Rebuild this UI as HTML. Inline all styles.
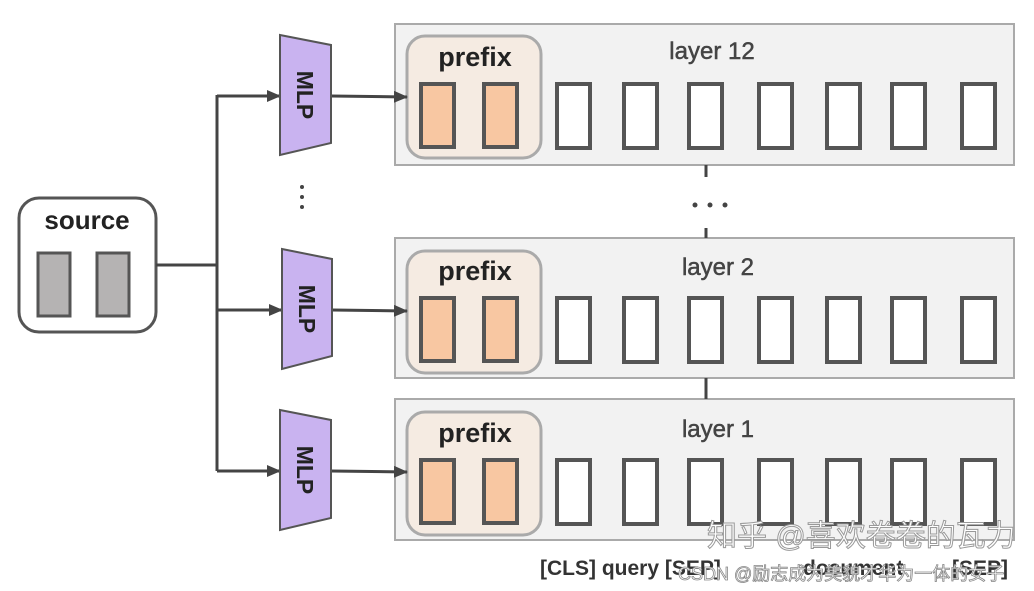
<!DOCTYPE html>
<html><head><meta charset="utf-8"><style>
html,body{margin:0;padding:0;background:#fff;}
svg{display:block;}
text{font-family:"Liberation Sans","Noto Sans CJK SC",sans-serif;}
</style></head><body>
<svg width="1034" height="591" viewBox="0 0 1034 591" xmlns="http://www.w3.org/2000/svg">
<defs>
<marker id="ar" markerWidth="14" markerHeight="12" refX="13" refY="6" orient="auto" markerUnits="userSpaceOnUse">
<path d="M0,0 L14,6 L0,12 z" fill="#444"/></marker>
<g id="tok"><rect width="33" height="64" fill="#fff" stroke="#555" stroke-width="4"/></g>
<g id="pre"><rect width="33" height="63" fill="#f8c7a2" stroke="#555" stroke-width="4"/></g>
</defs>

<rect x="395" y="24" width="619" height="141" fill="#f2f2f2" stroke="#aaa" stroke-width="2"/>
<rect x="395" y="238" width="619" height="140" fill="#f2f2f2" stroke="#aaa" stroke-width="2"/>
<rect x="395" y="399" width="619" height="141" fill="#f2f2f2" stroke="#aaa" stroke-width="2"/>

<line x1="706" y1="165" x2="706" y2="177" stroke="#444" stroke-width="3"/>
<line x1="706" y1="228" x2="706" y2="238" stroke="#444" stroke-width="3"/>
<circle cx="695" cy="205" r="2.5" fill="#444"/><circle cx="710" cy="205" r="2.5" fill="#444"/><circle cx="725" cy="205" r="2.5" fill="#444"/>
<line x1="706" y1="378" x2="706" y2="399" stroke="#444" stroke-width="3"/>

<rect x="407" y="36" width="134" height="122" rx="18" fill="#f5ebe2" stroke="#aaa" stroke-width="3"/>
<rect x="407" y="251" width="134" height="122" rx="18" fill="#f5ebe2" stroke="#aaa" stroke-width="3"/>
<rect x="407" y="412" width="134" height="123" rx="18" fill="#f5ebe2" stroke="#aaa" stroke-width="3"/>
<text x="475" y="66" font-size="27" font-weight="bold" text-anchor="middle" fill="#222">prefix</text>
<text x="475" y="280" font-size="27" font-weight="bold" text-anchor="middle" fill="#222">prefix</text>
<text x="475" y="442" font-size="27" font-weight="bold" text-anchor="middle" fill="#222">prefix</text>

<use href="#pre" x="421" y="84"/><use href="#pre" x="484" y="84"/>
<use href="#pre" x="421" y="298"/><use href="#pre" x="484" y="298"/>
<use href="#pre" x="421" y="460"/><use href="#pre" x="484" y="460"/>

<text x="712" y="59" font-size="24" text-anchor="middle" fill="#444" stroke="#444" stroke-width="0.5">layer 12</text>
<text x="718" y="275" font-size="24" text-anchor="middle" fill="#444" stroke="#444" stroke-width="0.5">layer 2</text>
<text x="718" y="437" font-size="24" text-anchor="middle" fill="#444" stroke="#444" stroke-width="0.5">layer 1</text>

<g>
<use href="#tok" x="557" y="84"/><use href="#tok" x="624" y="84"/><use href="#tok" x="689" y="84"/><use href="#tok" x="759" y="84"/><use href="#tok" x="827" y="84"/><use href="#tok" x="892" y="84"/><use href="#tok" x="962" y="84"/>
<use href="#tok" x="557" y="298"/><use href="#tok" x="624" y="298"/><use href="#tok" x="689" y="298"/><use href="#tok" x="759" y="298"/><use href="#tok" x="827" y="298"/><use href="#tok" x="892" y="298"/><use href="#tok" x="962" y="298"/>
<use href="#tok" x="557" y="460"/><use href="#tok" x="624" y="460"/><use href="#tok" x="689" y="460"/><use href="#tok" x="759" y="460"/><use href="#tok" x="827" y="460"/><use href="#tok" x="892" y="460"/><use href="#tok" x="962" y="460"/>
</g>

<rect x="19" y="198" width="137" height="134" rx="20" fill="#fff" stroke="#555" stroke-width="3"/>
<text x="87" y="229" font-size="26" font-weight="bold" text-anchor="middle" fill="#222">source</text>
<rect x="38" y="253" width="32" height="63" fill="#b5b3b3" stroke="#555" stroke-width="3"/>
<rect x="97" y="253" width="32" height="63" fill="#b5b3b3" stroke="#555" stroke-width="3"/>

<g stroke="#444" stroke-width="3" fill="none">
<line x1="156" y1="265" x2="217" y2="265"/>
<line x1="217" y1="95" x2="217" y2="471"/>
<line x1="217" y1="96" x2="280" y2="96" marker-end="url(#ar)"/>
<line x1="217" y1="310" x2="282" y2="310" marker-end="url(#ar)"/>
<line x1="217" y1="471" x2="280" y2="471" marker-end="url(#ar)"/>
<line x1="331" y1="96" x2="407" y2="97" marker-end="url(#ar)"/>
<line x1="332" y1="310" x2="407" y2="311" marker-end="url(#ar)"/>
<line x1="331" y1="471" x2="407" y2="472" marker-end="url(#ar)"/>
</g>

<polygon points="280,35 331,45 331,143 280,155" fill="#c9b3f0" stroke="#555" stroke-width="2"/>
<polygon points="282,249 332,259 332,356 282,369" fill="#c9b3f0" stroke="#555" stroke-width="2"/>
<polygon points="280,410 331,420 331,518 280,530" fill="#c9b3f0" stroke="#555" stroke-width="2"/>
<text transform="translate(297,95) rotate(90)" font-size="23" font-weight="bold" text-anchor="middle" fill="#222">MLP</text>
<text transform="translate(299,309) rotate(90)" font-size="23" font-weight="bold" text-anchor="middle" fill="#222">MLP</text>
<text transform="translate(297,470) rotate(90)" font-size="23" font-weight="bold" text-anchor="middle" fill="#222">MLP</text>

<circle cx="302" cy="187" r="2" fill="#444"/><circle cx="302" cy="197" r="2" fill="#444"/><circle cx="302" cy="207" r="2" fill="#444"/>

<text x="540" y="575" font-size="21" font-weight="bold" fill="#333">[CLS] query [SEP]</text>
<text x="803" y="575" font-size="21" font-weight="bold" fill="#333">document</text>
<text x="952" y="575" font-size="21" font-weight="bold" fill="#333">[SEP]</text>

<text x="707" y="546" font-size="30" fill="#fff" stroke="#999" stroke-width="1">知乎 @喜欢卷卷的瓦力</text>
<text x="678" y="580" font-size="18" fill="#fff" stroke="#888" stroke-width="0.8">CSDN @励志成为美貌才华为一体的女子</text>
</svg>
</body></html>
